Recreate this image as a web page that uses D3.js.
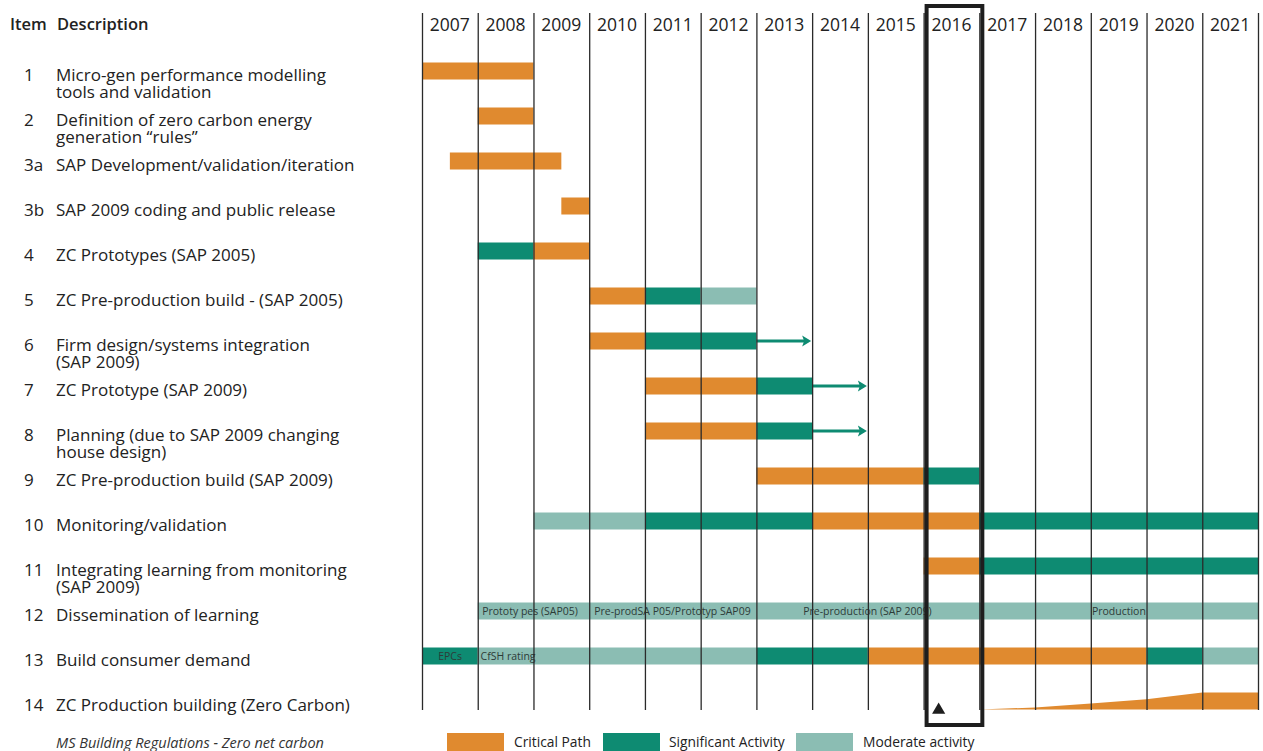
<!DOCTYPE html>
<html>
<head>
<meta charset="utf-8">
<script src="https://cdn.jsdelivr.net/npm/d3@7"></script>
<style>
  html, body { margin: 0; padding: 0; background: #fff; }
  svg { display: block; font-family: "Open Sans", sans-serif; }
</style>
</head>
<body>
<div id="roadmap"></div>
<script>
'use strict';

// item numbers and their descriptions (one entry per text line)
var items = ['1', '2', '3a', '3b', '4', '5', '6', '7', '8', '9', '10', '11', '12', '13', '14'];
var descriptions = [
    ['Micro-gen performance modelling', 'tools and validation'],
    ['Definition of zero carbon energy', 'generation \u201crules\u201d'],
    ['SAP Development/validation/iteration'],
    ['SAP 2009 coding and public release'],
    ['ZC Prototypes (SAP 2005)'],
    ['ZC Pre-production build - (SAP 2005)'],
    ['Firm design/systems integration', '(SAP 2009)'],
    ['ZC Prototype (SAP 2009)'],
    ['Planning (due to SAP 2009 changing', 'house design)'],
    ['ZC Pre-production build (SAP 2009)'],
    ['Monitoring/validation'],
    ['Integrating learning from monitoring', '(SAP 2009)'],
    ['Dissemination of learning'],
    ['Build consumer demand'],
    ['ZC Production building (Zero Carbon)']
];

var years = [2007, 2008, 2009, 2010, 2011, 2012, 2013, 2014, 2015, 2016, 2017, 2018, 2019, 2020, 2021];
var lastYearEnd = 2022;

// activity bars: row, start year, end year, activity level
var bars = [
    { row: '1',  from: 2007,   to: 2009,   level: 'critical' },
    { row: '2',  from: 2008,   to: 2009,   level: 'critical' },
    { row: '3a', from: 2007.5, to: 2009.5, level: 'critical' },
    { row: '3b', from: 2009.5, to: 2010,   level: 'critical' },
    { row: '4',  from: 2008,   to: 2009,   level: 'significant' },
    { row: '4',  from: 2009,   to: 2010,   level: 'critical' },
    { row: '5',  from: 2010,   to: 2011,   level: 'critical' },
    { row: '5',  from: 2011,   to: 2012,   level: 'significant' },
    { row: '5',  from: 2012,   to: 2013,   level: 'moderate' },
    { row: '6',  from: 2010,   to: 2011,   level: 'critical' },
    { row: '6',  from: 2011,   to: 2013,   level: 'significant' },
    { row: '7',  from: 2011,   to: 2013,   level: 'critical' },
    { row: '7',  from: 2013,   to: 2014,   level: 'significant' },
    { row: '8',  from: 2011,   to: 2013,   level: 'critical' },
    { row: '8',  from: 2013,   to: 2014,   level: 'significant' },
    { row: '9',  from: 2013,   to: 2016,   level: 'critical' },
    { row: '9',  from: 2016,   to: 2017,   level: 'significant' },
    { row: '10', from: 2009,   to: 2011,   level: 'moderate' },
    { row: '10', from: 2011,   to: 2014,   level: 'significant' },
    { row: '10', from: 2014,   to: 2017,   level: 'critical' },
    { row: '10', from: 2017,   to: 2022,   level: 'significant' },
    { row: '11', from: 2016,   to: 2017,   level: 'critical' },
    { row: '11', from: 2017,   to: 2022,   level: 'significant' },
    { row: '12', from: 2008,   to: 2022,   level: 'moderate' },
    { row: '13', from: 2007,   to: 2008,   level: 'significant' },
    { row: '13', from: 2008,   to: 2013,   level: 'moderate' },
    { row: '13', from: 2013,   to: 2015,   level: 'significant' },
    { row: '13', from: 2015,   to: 2020,   level: 'critical' },
    { row: '13', from: 2020,   to: 2021,   level: 'significant' },
    { row: '13', from: 2021,   to: 2022,   level: 'moderate' }
];

// continuing activity arrows
var arrows = [
    { row: '6', from: 2013, to: 2014 },
    { row: '7', from: 2014, to: 2015 },
    { row: '8', from: 2014, to: 2015 }
];

// small captions printed inside bars
var barNotes = [
    { row: '12', at: 2008.08, text: 'Prototy pes (SAP05)' },
    { row: '12', at: 2010.09, text: 'Pre-prodSA P05/Prototyp SAP09' },
    { row: '12', at: 2013.84, text: 'Pre-production (SAP 2009)' },
    { row: '12', at: 2019.02, text: 'Production' },
    { row: '13', at: 2007.29, text: 'EPCs' },
    { row: '13', at: 2008.05, text: 'CfSH rating' }
];

// production build-up for item 14 (share of full production)
var rampYears = [2017, 2018, 2019, 2020, 2021, 2022];
var rampShare = [0, 0.12, 0.35, 0.6, 1, 1];

var milestoneYear = 2016;

var levels = ['critical', 'significant', 'moderate'];
var levelNames = ['Critical Path', 'Significant Activity', 'Moderate activity'];
var footnote = 'MS Building Regulations - Zero net carbon';

var moduleRoadmap = (function() {

    var width = 1263,
        height = 751;

    var barHeight = 17;
    var gridTop = 13,
        gridBottom = 710;

    var colors = d3.scaleOrdinal()
        .domain(levels)
        .range(['#e08a2f', '#0e8b72', '#8bbdb3']);

    var x = d3.scaleLinear().domain([2007, lastYearEnd]).range([422, 1258]);
    var y = d3.scalePoint().domain(items).range([71, 701]);
    var rampY = d3.scaleLinear().domain([0, 1]).range([y('14') + 8.5, y('14') - 8.5]);

    var svg = d3.select('#roadmap').append('svg')
        .attr('width', width)
        .attr('height', height);

    var init = function() {
        drawHeader();
        drawLabels();
        drawBars();
        drawGrid();
        drawMilestone();
        drawLegend();
    };

    function drawHeader() {
        var head = svg.append('g')
            .attr('font-size', 16.5)
            .attr('font-weight', 600)
            .attr('fill', '#222');
        head.append('text').attr('x', 10).attr('y', 30).text('Item');
        head.append('text').attr('x', 57).attr('y', 30).text('Description');

        svg.append('g').selectAll('text')
            .data(years)
            .enter()
            .append('text')
            .attr('x', function(d) { return x(d + 0.5); })
            .attr('y', 31)
            .attr('text-anchor', 'middle')
            .attr('font-size', 17.5)
            .attr('fill', '#222')
            .text(function(d) { return d; });
    }

    function drawLabels() {
        var rows = svg.append('g')
            .attr('font-size', 17)
            .attr('fill', '#222')
            .selectAll('g')
            .data(items)
            .enter()
            .append('g')
            .attr('transform', function(d) { return 'translate(0,' + y(d) + ')'; });

        rows.append('text')
            .attr('x', 24)
            .attr('y', 10)
            .text(function(d) { return d; });

        rows.append('text')
            .attr('x', 56)
            .attr('y', 10)
            .selectAll('tspan')
            .data(function(d, i) { return descriptions[i]; })
            .enter()
            .append('tspan')
            .attr('x', 56)
            .attr('dy', function(d, i) { return i === 0 ? 0 : 17; })
            .text(function(d) { return d; });

        svg.append('text')
            .attr('x', 56)
            .attr('y', 748)
            .attr('font-size', 14.5)
            .attr('font-style', 'italic')
            .attr('fill', '#333')
            .text(footnote);
    }

    function drawBars() {
        var g = svg.append('g');

        g.selectAll('rect')
            .data(bars)
            .enter()
            .append('rect')
            .attr('x', function(d) { return x(d.from); })
            .attr('y', function(d) { return y(d.row) - barHeight / 2; })
            .attr('width', function(d) { return x(d.to) - x(d.from); })
            .attr('height', barHeight)
            .attr('fill', function(d) { return colors(d.level); });

        var arrowG = g.selectAll('g.arrow')
            .data(arrows)
            .enter()
            .append('g')
            .attr('class', 'arrow')
            .attr('fill', colors('significant'))
            .attr('stroke', colors('significant'));

        arrowG.append('line')
            .attr('x1', function(d) { return x(d.from); })
            .attr('x2', function(d) { return x(d.to) - 4; })
            .attr('y1', function(d) { return y(d.row); })
            .attr('y2', function(d) { return y(d.row); })
            .attr('stroke-width', 3);

        arrowG.append('path')
            .attr('stroke', 'none')
            .attr('d', function(d) {
                var tip = x(d.to) - 1, cy = y(d.row);
                return 'M' + tip + ',' + cy + 'L' + (tip - 9) + ',' + (cy - 5.5) +
                    'L' + (tip - 7) + ',' + cy + 'L' + (tip - 9) + ',' + (cy + 5.5) + 'Z';
            });

        g.selectAll('text.note')
            .data(barNotes)
            .enter()
            .append('text')
            .attr('class', 'note')
            .attr('x', function(d) { return x(d.at); })
            .attr('y', function(d) { return y(d.row) + 3.5; })
            .attr('font-size', 10.5)
            .attr('fill', '#2d3b38')
            .text(function(d) { return d.text; });

        var ramp = d3.area()
            .x(function(d) { return x(d); })
            .y0(rampY(0))
            .y1(function(d, i) { return rampY(rampShare[i]); });

        g.append('path')
            .datum(rampYears)
            .attr('d', ramp)
            .attr('fill', colors('critical'));
    }

    function drawGrid() {
        var gridYears = years.concat([lastYearEnd]);
        var axis = d3.axisBottom(x)
            .tickValues(gridYears)
            .tickSize(-(gridBottom - gridTop))
            .tickFormat('');

        var grid = svg.append('g')
            .attr('transform', 'translate(0,' + gridBottom + ')')
            .call(axis);
        grid.select('.domain').remove();
        grid.selectAll('.tick line')
            .attr('stroke', '#2a2a2a')
            .attr('stroke-width', 1.3);
    }

    function drawMilestone() {
        svg.append('rect')
            .attr('x', x(milestoneYear) + 3)
            .attr('y', 6)
            .attr('width', x(milestoneYear + 1) - x(milestoneYear))
            .attr('height', 719)
            .attr('fill', 'none')
            .attr('stroke', '#1e1e1e')
            .attr('stroke-width', 4);

        svg.append('path')
            .attr('d', d3.symbol(d3.symbolTriangle, 75))
            .attr('transform', 'translate(' + x(milestoneYear + 0.27) + ',' + 710 + ')')
            .attr('fill', '#1e1e1e');
    }

    function drawLegend() {
        var keyX = [447, 603, 796];
        var legend = svg.append('g').selectAll('g')
            .data(levels)
            .enter()
            .append('g')
            .attr('transform', function(d, i) { return 'translate(' + keyX[i] + ',733)'; });

        legend.append('rect')
            .attr('width', 57)
            .attr('height', 18)
            .attr('fill', function(d) { return colors(d); });

        legend.append('text')
            .attr('x', function(d, i) { return i === 1 ? 66 : 67; })
            .attr('y', 14)
            .attr('font-size', 13.8)
            .attr('fill', '#222')
            .text(function(d, i) { return levelNames[i]; });
    }

    return {
        init: init
    };
})();

moduleRoadmap.init();
</script>
</body>
</html>
